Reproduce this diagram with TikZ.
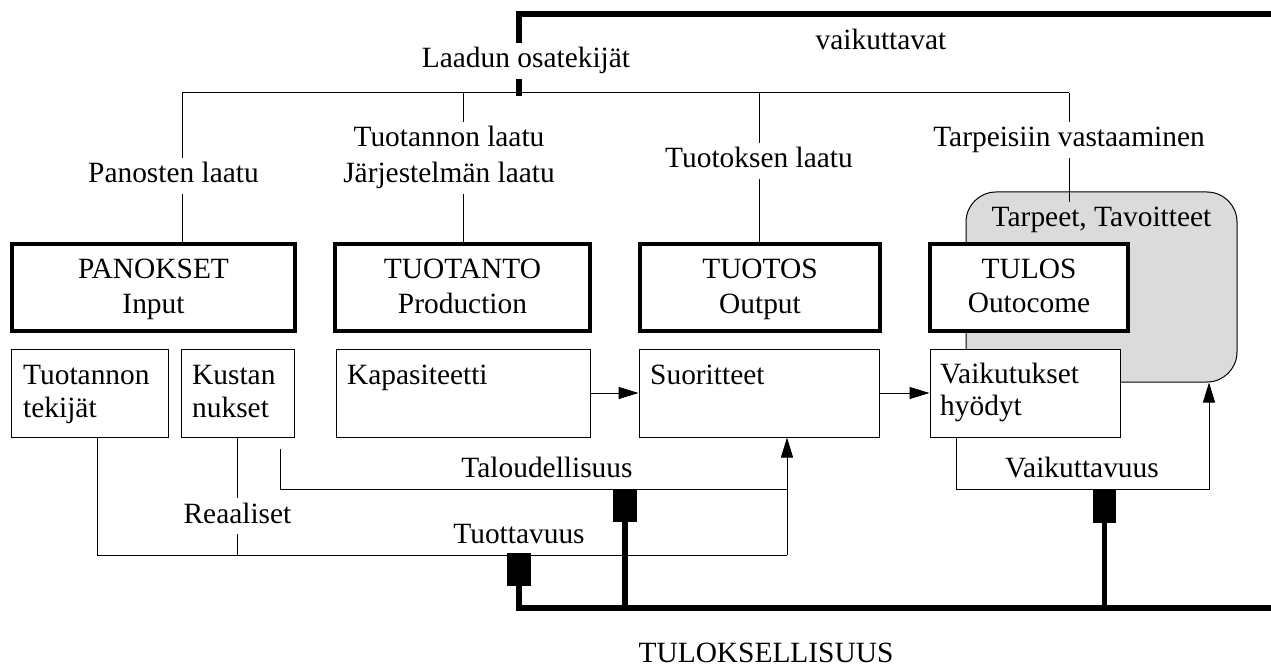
\documentclass[tikz,border=0pt]{standalone}
\usepackage{fontspec}
\setmainfont{Liberation Serif}
\usetikzlibrary{arrows.meta}
\begin{document}
\begin{tikzpicture}[x=1bp,y=-1bp,
  ln/.style={line width=1bp, draw=black},
  thk/.style={line width=5.5bp, line cap=butt, draw=black},
  tbox/.style={draw=black, line width=4.5bp, fill=white, inner sep=0pt},
  sbox/.style={draw=black, line width=1bp, fill=white, inner sep=0pt, minimum height=88bp},
  lbl/.style={anchor=base, inner xsep=0pt, inner ysep=4bp, text height=21bp, text depth=7bp,
              font=\fontsize{29.4bp}{35bp}\selectfont},
  arr/.style={ln, -{Triangle[length=20bp,width=12bp]}},
  blk/.style={fill=black, draw=none, inner sep=0pt, minimum width=24bp, minimum height=33bp}
]
\useasboundingbox (0,0) rectangle (1271,666);

% needs / goals (shaded rounded area)
\node[draw=black, line width=1bp, fill=black!14, rounded corners=30bp, inner sep=0pt,
      minimum width=271bp, minimum height=190bp] (need) at (1101.5,287) {};

% main (thick) boxes
\node[tbox, minimum width=283bp, minimum height=87bp] (panokset) at (153.5,287.5) {};
\node[tbox, minimum width=255bp, minimum height=87bp] (tuotanto) at (462.5,287.5) {};
\node[tbox, minimum width=240bp, minimum height=87bp] (tuotos)   at (760,287.5) {};
\node[tbox, minimum width=198bp, minimum height=87bp] (tulos)    at (1029,287.5) {};

% detail (thin) boxes
\node[sbox, minimum width=156bp] (tekijat) at (90,393) {};
\node[sbox, minimum width=113bp] (kust)    at (237.5,393) {};
\node[sbox, minimum width=254bp] (kap)     at (463,393) {};
\node[sbox, minimum width=240bp] (suor)    at (759,393) {};
\node[sbox, minimum width=190bp] (vaik)    at (1025,393) {};

% texts
\node[lbl] (vaikt)  at (881,50)  {vaikuttavat};
\node[lbl] (laadun) at (526,68)  {Laadun osatekijät};
\node[lbl] (panL)   at (173.5,183) {Panosten laatu};
\node[lbl] (tuoL)   at (449,147) {Tuotannon laatu};
\node[lbl] (jarL)   at (449,183) {Järjestelmän laatu};
\node[lbl] (tksL)   at (759,168) {Tuotoksen laatu};
\node[lbl] (tarpL)  at (1069,147) {Tarpeisiin vastaaminen};

\node[lbl] (pa1) at (153.5,278) {PANOKSET};
\node[lbl] (pa2) at (153.5,313) {Input};
\node[lbl] (tu1) at (462.5,278) {TUOTANTO};
\node[lbl] (tu2) at (462.5,313) {Production};
\node[lbl] (to1) at (760,278) {TUOTOS};
\node[lbl] (to2) at (760,313) {Output};
\node[lbl] (tl1) at (1029,278) {TULOS};
\node[lbl] (tl2) at (1029,312) {Outocome};
\node[lbl] (tarp) at (1101.5,227) {Tarpeet, Tavoitteet};

\node[lbl, anchor=base west] (te1) at (23,384)  {Tuotannon};
\node[lbl, anchor=base west] (te2) at (23,417)  {tekijät};
\node[lbl, anchor=base west] (ku1) at (192,384) {Kustan};
\node[lbl, anchor=base west] (ku2) at (192,417) {nukset};
\node[lbl, anchor=base west] (ka1) at (347,384) {Kapasiteetti};
\node[lbl, anchor=base west] (su1) at (650,384) {Suoritteet};
\node[lbl, anchor=base west] (va1) at (940,383) {Vaikutukset};
\node[lbl, anchor=base west] (va2) at (940,415) {hyödyt};

\node[lbl] (talL)  at (547,477)  {Taloudellisuus};
\node[lbl] (tuotv) at (519,543)  {Tuottavuus};
\node[lbl] (vaikv) at (1082,477) {Vaikuttavuus};
\node[lbl] (reaal) at (237.5,523) {Reaaliset};
\node[lbl] (tulok) at (766,662)  {TULOKSELLISUUS};

% quality bus at the top
\coordinate (b1) at (182,93);
\coordinate (b2) at (463,93);
\coordinate (b3) at (759,93);
\coordinate (b4) at (1069,93);
\coordinate (tp) at (1069,202);
\draw[ln] (b1) -- (b4);
\draw[ln] (b1) -- (b1 |- panL.north);
\draw[ln] (panL.south -| b1) -- (b1 |- panokset.north);
\draw[ln] (b2) -- (b2 |- tuoL.north);
\draw[ln] (jarL.south -| b2) -- (b2 |- tuotanto.north);
\draw[ln] (b3) -- (b3 |- tksL.north);
\draw[ln] (tksL.south -| b3) -- (b3 |- tuotos.north);
\draw[ln] (b4) -- (b4 |- tarpL.north);
\draw[ln] (tarpL.south -| b4) -- (tp);

% flow arrows
\draw[arr] (kap) -- (suor);
\draw[arr] (suor) -- (vaik);

% measures
\coordinate (ta) at (787,555);
\coordinate (tb) at (787,489);
\coordinate (tl) at (280,449);
\coordinate (va) at (1209,489);
\draw[ln] ([xshift=7bp]tekijat.south) |- (ta);
\draw[arr] (ta) -- (ta |- suor.south);
\draw[ln] (tl) |- (tb);
\draw[ln] (kust.south) -- (reaal.north);
\draw[ln] (reaal.south) -- (reaal.south |- ta);
\draw[arr] ([xshift=-69bp]vaik.south) |- (va) -- (va |- need.south);

% thick frame lines
\coordinate (k1) at (519,14);
\coordinate (k2) at (519,96);
\coordinate (bot) at (1275,608);
\draw[thk] (laadun.north -| k1) -- (k1) -- (1275,14);
\draw[thk] (laadun.south -| k1) -- (k2);

\node[blk] (m1) at (519,569.5) {};
\node[blk, minimum height=32bp] (m2) at (625,506) {};
\node[blk, minimum width=23bp] (m3) at (1104.5,506.5) {};
\draw[thk] (m1.south) |- (bot);
\draw[thk] (m2.south) -- (m2.south |- bot);
\draw[thk] (m3.south) -- (m3.south |- bot);
\end{tikzpicture}
\end{document}
